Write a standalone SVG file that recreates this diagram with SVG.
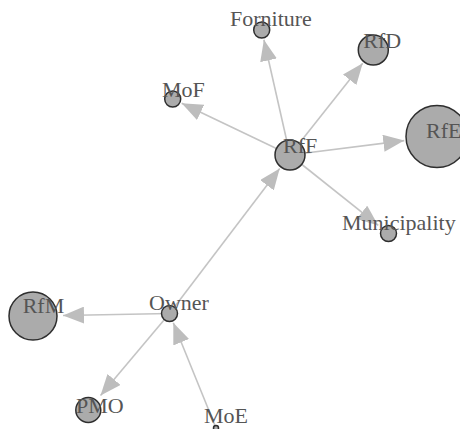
<svg xmlns="http://www.w3.org/2000/svg" width="460" height="429" viewBox="0 0 460 429">
<style>
.edge{stroke:#c4c4c4;stroke-width:1.6;fill:none;marker-end:url(#arr)}
.node circle{fill:#ababab;stroke:#2e2e2e;stroke-width:1.5}
.node text{font-family:"Liberation Serif","Times New Roman",serif;font-size:22px;fill:#555555}
</style>
<defs>
<marker id="arr" markerUnits="userSpaceOnUse" markerWidth="21" markerHeight="17" refX="21" refY="8.5" orient="auto">
<path d="M0,0 L21,8.5 L0,17 Z" fill="#bdbdbd"/>
</marker>
</defs>
<rect width="460" height="429" fill="#ffffff"/>
<g id="connectors">
<line class="edge" x1="290" y1="155" x2="263.9" y2="39.8"/>
<line class="edge" x1="290" y1="155" x2="362.7" y2="63.3"/>
<line class="edge" x1="290" y1="155" x2="181.7" y2="103.3"/>
<line class="edge" x1="290" y1="155" x2="404.3" y2="140.6"/>
<line class="edge" x1="290" y1="155" x2="378.3" y2="225.4"/>
<line class="edge" x1="169.5" y1="313.5" x2="279.7" y2="168.5"/>
<line class="edge" x1="169.5" y1="313.5" x2="63" y2="315.5"/>
<line class="edge" x1="169.5" y1="313.5" x2="100.5" y2="395.5"/>
<line class="edge" x1="216" y1="428" x2="173.3" y2="322.8"/>
</g>
<g id="node-Forniture" class="node"><circle cx="261.7" cy="30" r="8"/><text x="230" y="26">Forniture</text></g>
<g id="node-RfD" class="node"><circle cx="373.3" cy="50" r="15"/><text x="363.3" y="48">RfD</text></g>
<g id="node-MoF" class="node"><circle cx="172.7" cy="99" r="8"/><text x="162" y="97">MoF</text></g>
<g id="node-RfF" class="node"><circle cx="290" cy="155" r="15"/><text x="283" y="153">RfF</text></g>
<g id="node-RfE" class="node"><circle cx="437" cy="136.5" r="31"/><text x="426" y="138">RfE</text></g>
<g id="node-Municipality" class="node"><circle cx="388.5" cy="233.5" r="8"/><text x="342" y="229.5">Municipality</text></g>
<g id="node-Owner" class="node"><circle cx="169.5" cy="313.5" r="8"/><text x="149" y="310">Owner</text></g>
<g id="node-RfM" class="node"><circle cx="33" cy="316" r="24"/><text x="22.7" y="313">RfM</text></g>
<g id="node-PMO" class="node"><circle cx="88.3" cy="410" r="12.5"/><text x="76" y="413">PMO</text></g>
<g id="node-MoE" class="node"><circle cx="216" cy="428" r="2.5"/><text x="204" y="423">MoE</text></g>
</svg>
